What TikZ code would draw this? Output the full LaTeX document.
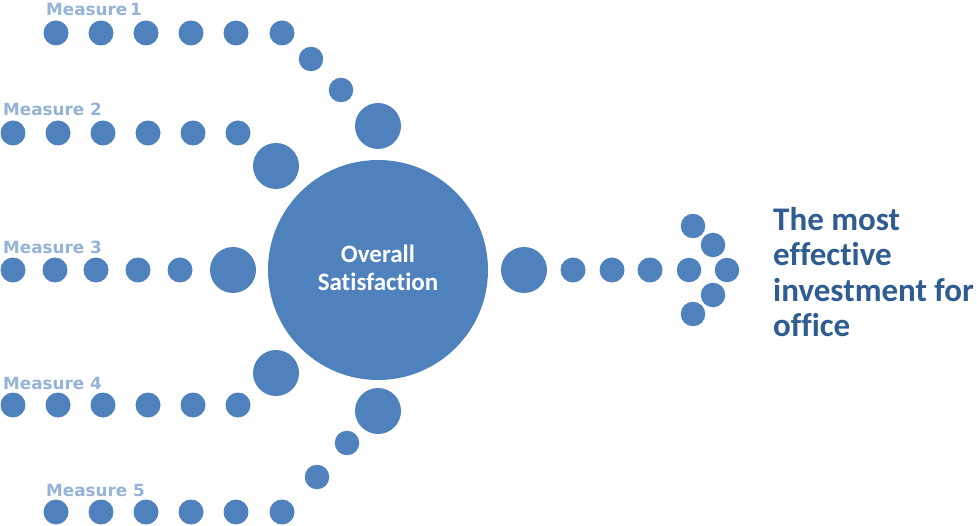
\documentclass[tikz,border=0pt]{standalone}
\usepackage{fontspec}
\setmainfont[Ligatures=NoCommon]{Carlito}
\newfontfamily\labfont{DejaVu Sans}
\definecolor{dotblue}{HTML}{4F81BD}
\definecolor{labblue}{HTML}{95B3D7}
\definecolor{darkblue}{HTML}{2F5D92}
\begin{document}
\begin{tikzpicture}[x=1pt,y=-1pt,
  sd/.style={circle,fill=dotblue,inner sep=0pt,minimum size=25pt},
  cd/.style={circle,fill=dotblue,inner sep=0pt,minimum size=24.5pt},
  bd/.style={circle,fill=dotblue,inner sep=0pt,minimum size=46pt},
  mainc/.style={circle,fill=dotblue,inner sep=0pt,minimum size=220pt},
  meas/.style={anchor=base west,inner sep=0pt,text=labblue,font=\labfont\bfseries\fontsize{16.8}{18}\selectfont},
]
\useasboundingbox (0,0) rectangle (977,526);
% main circle
\node[mainc] (main) at (378,270) {};
\node[anchor=base,inner sep=0pt,align=center,text=white,font=\bfseries\fontsize{25}{28}\selectfont] (mt) at (378,291) {Overall\\Satisfaction};
% row 1
\foreach \x [count=\i] in {56,101,146,191,236,282} {\node[sd] (ra\i) at (\x,33) {};}
\node[cd] (ca1) at (311,59) {};
\node[cd] (ca2) at (341,90) {};
\node[bd] (ba) at (378,126) {};
% row 2
\foreach \x [count=\i] in {13,58,103,148,193,238} {\node[sd] (rb\i) at (\x,133) {};}
\node[bd] (bb) at (276,166) {};
% row 3
\foreach \x [count=\i] in {13,55,96,138,180} {\node[sd] (rc\i) at (\x,270) {};}
\node[bd] (bc) at (233,270) {};
% row 4
\foreach \x [count=\i] in {13,58,103,148,193,238} {\node[sd] (rd\i) at (\x,405) {};}
\node[bd] (bdd) at (276,373) {};
% row 5
\foreach \x [count=\i] in {56,101,146,191,236,282} {\node[sd] (re\i) at (\x,512) {};}
\node[cd] (ce1) at (317,477) {};
\node[cd] (ce2) at (347,443) {};
\node[bd] (be) at (378,411) {};
% right side
\node[bd] (bo) at (524,270) {};
\foreach \x [count=\i] in {573,612,650} {\node[sd] (ro\i) at (\x,270) {};}
\node[cd] (ar1) at (693,226) {};
\node[cd] (ar2) at (713,245) {};
\node[cd] (ar3) at (689,270) {};
\node[cd] (ar4) at (727,270) {};
\node[cd] (ar5) at (713,295) {};
\node[cd] (ar6) at (693,314) {};
% labels
\node[meas] (m1) at (46,16) {Measure\,1};
\node[meas] (m2) at (3,116) {Measure 2};
\node[meas] (m3) at (3,254) {Measure 3};
\node[meas] (m4) at (3,389) {Measure 4};
\node[meas] (m5) at (46,496) {Measure 5};
% result text
\node[anchor=base west,inner sep=0pt,align=left,text=darkblue,font=\bfseries\fontsize{33}{35.5}\selectfont] (res) at (773,337) {The most\\effective\\investment for\\office};
\end{tikzpicture}
\end{document}
